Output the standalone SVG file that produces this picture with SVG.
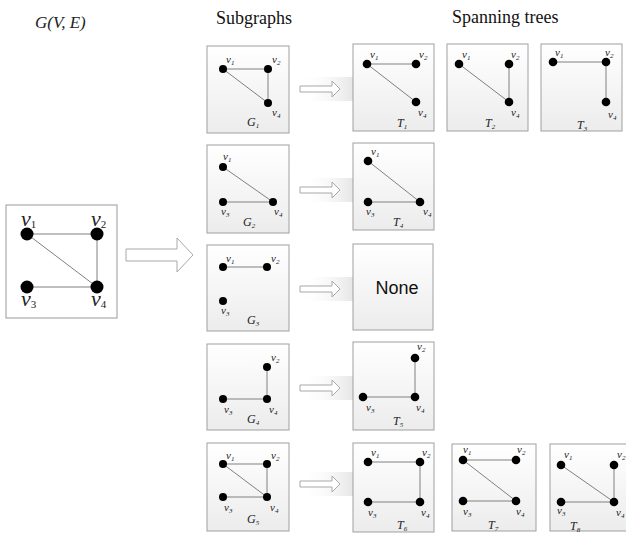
<svg xmlns="http://www.w3.org/2000/svg" width="626" height="534" viewBox="0 0 626 534">
<style>
.hdr{font-family:"Liberation Serif","Times New Roman",serif;font-size:18px;fill:#111}
.it{font-family:"Liberation Serif","Times New Roman",serif;font-style:italic;fill:#222}
.big{font-size:22px}
.sm{font-size:11px}
.gl{font-size:12px}
.sub{font-size:7px}
.subb{font-size:11px;font-style:normal}
.box{fill:url(#bg);stroke:#a0a0a0;stroke-width:1}
.mainbox{fill:#fff;stroke:#999;stroke-width:1}
.e{stroke:#808080;stroke-width:1;fill:none}
.n{fill:#000}
.arr{fill:#fff;stroke:#a8a8a8;stroke-width:1}
.band{fill:url(#band)}
.none{font-family:"Liberation Sans",Arial,sans-serif;font-size:18px;fill:#111}
</style>
<defs>
<linearGradient id="bg" x1="0" y1="0" x2="0" y2="1">
<stop offset="0" stop-color="#ffffff"/>
<stop offset="1" stop-color="#ececec"/>
</linearGradient>
<linearGradient id="band" x1="0" y1="0" x2="1" y2="0">
<stop offset="0" stop-color="#ffffff" stop-opacity="0"/>
<stop offset="1" stop-color="#e6e6e6"/>
</linearGradient>
</defs>

<text class="it" x="35" y="28" font-size="17">G(V, E)</text>
<text class="hdr" x="216" y="24">Subgraphs</text>
<text class="hdr" x="452" y="23">Spanning trees</text>

<!-- main graph -->
<g id="G">
<rect class="mainbox" x="6" y="205" width="111" height="113"/>
<line class="e" x1="27" y1="234" x2="97" y2="234"/>
<line class="e" x1="97" y1="234" x2="97" y2="287"/>
<line class="e" x1="27" y1="234" x2="97" y2="287"/>
<line class="e" x1="27" y1="287" x2="97" y2="287"/>
<circle class="n" cx="27" cy="234" r="6.5"/>
<circle class="n" cx="97" cy="234" r="6.5"/>
<circle class="n" cx="27" cy="287" r="6.5"/>
<circle class="n" cx="97" cy="287" r="6.5"/>
<text class="it big" x="21" y="226">v<tspan class="subb" dy="2">1</tspan></text>
<text class="it big" x="91" y="226">v<tspan class="subb" dy="2">2</tspan></text>
<text class="it big" x="21" y="306">v<tspan class="subb" dy="2">3</tspan></text>
<text class="it big" x="91" y="306">v<tspan class="subb" dy="2">4</tspan></text>
</g>

<g id="connectors">
<path class="arr" d="M126,249 H177 V238 L193,255 L177,272 V261 H126 Z"/>
<rect class="band" x="300" y="77" width="53" height="24"/>
<path class="arr" d="M300,86 H332 V81 L340,89 L332,97 V92 H300 Z"/>
<rect class="band" x="300" y="178" width="53" height="24"/>
<path class="arr" d="M300,187 H332 V182 L340,190 L332,198 V193 H300 Z"/>
<rect class="band" x="300" y="277" width="53" height="24"/>
<path class="arr" d="M300,286 H332 V281 L340,289 L332,297 V292 H300 Z"/>
<rect class="band" x="300" y="376" width="53" height="24"/>
<path class="arr" d="M300,385 H332 V380 L340,388 L332,396 V391 H300 Z"/>
<rect class="band" x="300" y="472" width="53" height="24"/>
<path class="arr" d="M300,481 H332 V476 L340,484 L332,492 V487 H300 Z"/>
</g>

<!-- G1 -->
<g id="G1">
<rect class="box" x="207" y="46" width="82" height="87"/>
<line class="e" x1="223" y1="69" x2="268" y2="69"/>
<line class="e" x1="268" y1="69" x2="268" y2="103"/>
<line class="e" x1="223" y1="69" x2="268" y2="103"/>
<circle class="n" cx="223" cy="69" r="4"/>
<circle class="n" cx="268" cy="69" r="4"/>
<circle class="n" cx="268" cy="103" r="4"/>
<text class="it sm" x="226" y="63">v<tspan class="sub" dy="2">1</tspan></text>
<text class="it sm" x="272" y="63">v<tspan class="sub" dy="2">2</tspan></text>
<text class="it sm" x="272" y="116">v<tspan class="sub" dy="2">4</tspan></text>
<text class="it gl" x="247" y="126">G<tspan class="sub" dy="2">1</tspan></text>
</g>

<!-- G2 -->
<g id="G2">
<rect class="box" x="207" y="145" width="82" height="88"/>
<line class="e" x1="223" y1="167" x2="273" y2="202"/>
<line class="e" x1="223" y1="202" x2="273" y2="202"/>
<circle class="n" cx="223" cy="167" r="4"/>
<circle class="n" cx="223" cy="202" r="4"/>
<circle class="n" cx="273" cy="202" r="4"/>
<text class="it sm" x="223" y="160">v<tspan class="sub" dy="2">1</tspan></text>
<text class="it sm" x="221" y="215">v<tspan class="sub" dy="2">3</tspan></text>
<text class="it sm" x="274" y="215">v<tspan class="sub" dy="2">4</tspan></text>
<text class="it gl" x="243" y="226">G<tspan class="sub" dy="2">2</tspan></text>
</g>

<!-- G3 -->
<g id="G3">
<rect class="box" x="207" y="245" width="82" height="86"/>
<line class="e" x1="223" y1="267" x2="267" y2="267"/>
<circle class="n" cx="223" cy="267" r="4"/>
<circle class="n" cx="267" cy="267" r="4"/>
<circle class="n" cx="223" cy="301" r="4"/>
<text class="it sm" x="226" y="262">v<tspan class="sub" dy="2">1</tspan></text>
<text class="it sm" x="271" y="262">v<tspan class="sub" dy="2">2</tspan></text>
<text class="it sm" x="221" y="314">v<tspan class="sub" dy="2">3</tspan></text>
<text class="it gl" x="247" y="324">G<tspan class="sub" dy="2">3</tspan></text>
</g>

<!-- G4 -->
<g id="G4">
<rect class="box" x="207" y="344" width="82" height="86"/>
<line class="e" x1="267" y1="367" x2="267" y2="399"/>
<line class="e" x1="223" y1="399" x2="267" y2="399"/>
<circle class="n" cx="267" cy="367" r="4"/>
<circle class="n" cx="223" cy="399" r="4"/>
<circle class="n" cx="267" cy="399" r="4"/>
<text class="it sm" x="271" y="361">v<tspan class="sub" dy="2">2</tspan></text>
<text class="it sm" x="224" y="413">v<tspan class="sub" dy="2">3</tspan></text>
<text class="it sm" x="269" y="413">v<tspan class="sub" dy="2">4</tspan></text>
<text class="it gl" x="247" y="423">G<tspan class="sub" dy="2">4</tspan></text>
</g>

<!-- G5 -->
<g id="G5">
<rect class="box" x="207" y="443" width="82" height="88"/>
<line class="e" x1="223" y1="464" x2="267" y2="464"/>
<line class="e" x1="267" y1="464" x2="267" y2="497"/>
<line class="e" x1="223" y1="464" x2="267" y2="497"/>
<line class="e" x1="223" y1="497" x2="267" y2="497"/>
<circle class="n" cx="223" cy="464" r="4"/>
<circle class="n" cx="267" cy="464" r="4"/>
<circle class="n" cx="223" cy="497" r="4"/>
<circle class="n" cx="267" cy="497" r="4"/>
<text class="it sm" x="226" y="459">v<tspan class="sub" dy="2">1</tspan></text>
<text class="it sm" x="271" y="459">v<tspan class="sub" dy="2">2</tspan></text>
<text class="it sm" x="224" y="511">v<tspan class="sub" dy="2">3</tspan></text>
<text class="it sm" x="270" y="511">v<tspan class="sub" dy="2">4</tspan></text>
<text class="it gl" x="247" y="523">G<tspan class="sub" dy="2">5</tspan></text>
</g>

<!-- T1 -->
<g id="T1">
<rect class="box" x="353" y="44" width="81" height="87"/>
<line class="e" x1="367" y1="64" x2="416" y2="64"/>
<line class="e" x1="367" y1="64" x2="416" y2="102"/>
<circle class="n" cx="367" cy="64" r="4.3"/>
<circle class="n" cx="416" cy="64" r="4.3"/>
<circle class="n" cx="416" cy="102" r="4.3"/>
<text class="it sm" x="370" y="58">v<tspan class="sub" dy="2">1</tspan></text>
<text class="it sm" x="419" y="58">v<tspan class="sub" dy="2">2</tspan></text>
<text class="it sm" x="418" y="116">v<tspan class="sub" dy="2">4</tspan></text>
<text class="it gl" x="397" y="127">T<tspan class="sub" dy="2">1</tspan></text>
</g>

<!-- T2 -->
<g id="T2">
<rect class="box" x="447" y="44" width="81" height="87"/>
<line class="e" x1="459" y1="64" x2="509" y2="102"/>
<line class="e" x1="509" y1="64" x2="509" y2="102"/>
<circle class="n" cx="459" cy="64" r="4.3"/>
<circle class="n" cx="509" cy="64" r="4.3"/>
<circle class="n" cx="509" cy="102" r="4.3"/>
<text class="it sm" x="462" y="58">v<tspan class="sub" dy="2">1</tspan></text>
<text class="it sm" x="511" y="58">v<tspan class="sub" dy="2">2</tspan></text>
<text class="it sm" x="511" y="116">v<tspan class="sub" dy="2">4</tspan></text>
<text class="it gl" x="485" y="127">T<tspan class="sub" dy="2">2</tspan></text>
</g>

<!-- T3 -->
<g id="T3">
<rect class="box" x="541" y="44" width="81" height="87"/>
<line class="e" x1="553" y1="62" x2="606" y2="62"/>
<line class="e" x1="606" y1="62" x2="606" y2="102"/>
<circle class="n" cx="553" cy="62" r="4.3"/>
<circle class="n" cx="606" cy="62" r="4.3"/>
<circle class="n" cx="606" cy="102" r="4.3"/>
<text class="it sm" x="555" y="56">v<tspan class="sub" dy="2">1</tspan></text>
<text class="it sm" x="605" y="56">v<tspan class="sub" dy="2">2</tspan></text>
<text class="it sm" x="608" y="118">v<tspan class="sub" dy="2">4</tspan></text>
<text class="it gl" x="577" y="129">T<tspan class="sub" dy="2">3</tspan></text>
</g>

<!-- T4 -->
<g id="T4">
<rect class="box" x="353" y="143" width="81" height="87"/>
<line class="e" x1="368" y1="161" x2="420" y2="202"/>
<line class="e" x1="368" y1="202" x2="420" y2="202"/>
<circle class="n" cx="368" cy="161" r="4.3"/>
<circle class="n" cx="368" cy="202" r="4.3"/>
<circle class="n" cx="420" cy="202" r="4.3"/>
<text class="it sm" x="371" y="155">v<tspan class="sub" dy="2">1</tspan></text>
<text class="it sm" x="366" y="215">v<tspan class="sub" dy="2">3</tspan></text>
<text class="it sm" x="423" y="215">v<tspan class="sub" dy="2">4</tspan></text>
<text class="it gl" x="393" y="226">T<tspan class="sub" dy="2">4</tspan></text>
</g>

<!-- None -->
<g id="None">
<rect class="box" x="353" y="244" width="80" height="86"/>
<text class="none" x="397" y="294" text-anchor="middle">None</text>
</g>

<!-- T5 -->
<g id="T5">
<rect class="box" x="353" y="342" width="81" height="88"/>
<line class="e" x1="415" y1="358" x2="415" y2="397"/>
<line class="e" x1="363" y1="397" x2="415" y2="397"/>
<circle class="n" cx="415" cy="358" r="4.3"/>
<circle class="n" cx="363" cy="397" r="4.3"/>
<circle class="n" cx="415" cy="397" r="4.3"/>
<text class="it sm" x="417" y="350">v<tspan class="sub" dy="2">2</tspan></text>
<text class="it sm" x="366" y="411">v<tspan class="sub" dy="2">3</tspan></text>
<text class="it sm" x="416" y="411">v<tspan class="sub" dy="2">4</tspan></text>
<text class="it gl" x="393" y="425">T<tspan class="sub" dy="2">5</tspan></text>
</g>

<!-- T6 -->
<g id="T6">
<rect class="box" x="353" y="443" width="81" height="89"/>
<line class="e" x1="368" y1="462" x2="420" y2="462"/>
<line class="e" x1="420" y1="462" x2="420" y2="502"/>
<line class="e" x1="368" y1="502" x2="420" y2="502"/>
<circle class="n" cx="368" cy="462" r="4.3"/>
<circle class="n" cx="420" cy="462" r="4.3"/>
<circle class="n" cx="368" cy="502" r="4.3"/>
<circle class="n" cx="420" cy="502" r="4.3"/>
<text class="it sm" x="371" y="456">v<tspan class="sub" dy="2">1</tspan></text>
<text class="it sm" x="422" y="456">v<tspan class="sub" dy="2">2</tspan></text>
<text class="it sm" x="368" y="516">v<tspan class="sub" dy="2">3</tspan></text>
<text class="it sm" x="421" y="516">v<tspan class="sub" dy="2">4</tspan></text>
<text class="it gl" x="397" y="529">T<tspan class="sub" dy="2">6</tspan></text>
</g>

<!-- T7 -->
<g id="T7">
<rect class="box" x="452" y="444" width="84" height="87"/>
<line class="e" x1="463" y1="460" x2="516" y2="460"/>
<line class="e" x1="463" y1="460" x2="516" y2="501"/>
<line class="e" x1="463" y1="501" x2="516" y2="501"/>
<circle class="n" cx="463" cy="460" r="4.3"/>
<circle class="n" cx="516" cy="460" r="4.3"/>
<circle class="n" cx="463" cy="501" r="4.3"/>
<circle class="n" cx="516" cy="501" r="4.3"/>
<text class="it sm" x="463" y="453">v<tspan class="sub" dy="2">1</tspan></text>
<text class="it sm" x="517" y="453">v<tspan class="sub" dy="2">2</tspan></text>
<text class="it sm" x="463" y="515">v<tspan class="sub" dy="2">3</tspan></text>
<text class="it sm" x="516" y="515">v<tspan class="sub" dy="2">4</tspan></text>
<text class="it gl" x="488" y="529">T<tspan class="sub" dy="2">7</tspan></text>
</g>

<!-- T8 -->
<g id="T8">
<rect class="box" x="550" y="444" width="84" height="87"/>
<line class="e" x1="561" y1="465" x2="614" y2="502"/>
<line class="e" x1="614" y1="465" x2="614" y2="502"/>
<line class="e" x1="561" y1="502" x2="614" y2="502"/>
<circle class="n" cx="561" cy="465" r="4.3"/>
<circle class="n" cx="614" cy="465" r="4.3"/>
<circle class="n" cx="561" cy="502" r="4.3"/>
<circle class="n" cx="614" cy="502" r="4.3"/>
<text class="it sm" x="564" y="458">v<tspan class="sub" dy="2">1</tspan></text>
<text class="it sm" x="617" y="458">v<tspan class="sub" dy="2">2</tspan></text>
<text class="it sm" x="557" y="514">v<tspan class="sub" dy="2">3</tspan></text>
<text class="it sm" x="616" y="516">v<tspan class="sub" dy="2">4</tspan></text>
<text class="it gl" x="570" y="530">T<tspan class="sub" dy="2">8</tspan></text>
</g>
</svg>
